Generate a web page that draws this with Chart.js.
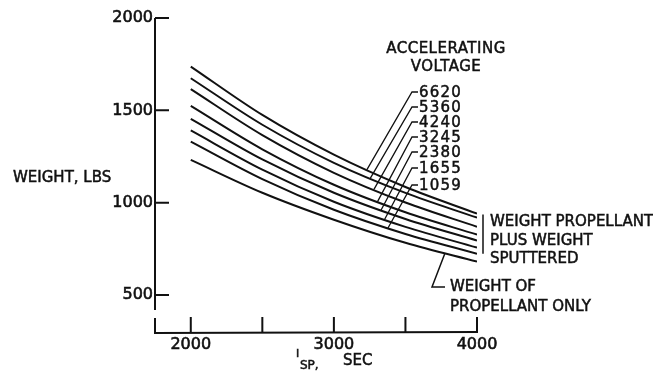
<!DOCTYPE html>
<html>
<head>
<meta charset="utf-8">
<script src="https://cdn.jsdelivr.net/npm/chart.js@4.4.0/dist/chart.umd.min.js"></script>
<style>
  html, body { margin: 0; padding: 0; background: #fff; }
</style>
</head>
<body>
<canvas id="chartIsp" width="653" height="371"></canvas>
<script>
// specific impulse, sec
const ispValues = [2000, 2500, 3000, 3500, 4000];
// accelerating voltage labels, top curve first
const voltages = ['6620', '5360', '4240', '3245', '2380', '1655', '1059'];
// weight propellant plus weight sputtered, lbs
const w6620 = [1737, 1475, 1260, 1085, 941];
const w5360 = [1674, 1422, 1216, 1053, 919];
const w4240 = [1615, 1366, 1162, 1001, 870];
const w3245 = [1524, 1289, 1097, 948, 827];
const w2380 = [1454, 1234, 1054, 912, 795];
const w1655 = [1391, 1179, 1005, 869, 757];
const w1059 = [1331, 1128, 962, 831, 724];
// weight of propellant only
const propellantOnly = [1232, 1054, 908, 783, 681];

const xTickLabels = [2000, 3000, 4000];
const xTickMarks = [2000, 2500, 3000, 3500, 4000];
const yTicks = [500, 1000, 1500, 2000];

const INK = '#111';
const FONT = '"DejaVu Sans", sans-serif';

const series = [w6620, w5360, w4240, w3245, w2380, w1655, w1059, propellantOnly];

function toPoints(arr) {
    return arr.map((v, i) => ({ x: ispValues[i], y: v }));
}

// y pixel of a drawn curve at a given Isp
function curveY(chart, idx, isp) {
    const pts = chart.getDatasetMeta(idx).data;
    const px = chart.scales.x.getPixelForValue(isp);
    for (let i = 0; i < pts.length - 1; i++) {
        if (px >= pts[i].x && px <= pts[i + 1].x) {
            const t = (px - pts[i].x) / (pts[i + 1].x - pts[i].x);
            return pts[i].y + t * (pts[i + 1].y - pts[i].y);
        }
    }
    return pts[pts.length - 1].y;
}

// filled text with a hairline stroke so it looks like stencil lettering
function letter(ctx, s, x, y) {
    ctx.fillText(s, x, y);
    ctx.strokeText(s, x, y);
}

const decorPlugin = {
    id: 'decorPlugin',
    afterDraw(chart) {
        const { ctx, chartArea } = chart;
        const xs = chart.scales.x, ys = chart.scales.y;
        const left = chartArea.left, bottom = chartArea.bottom;

        ctx.save();
        ctx.strokeStyle = INK;
        ctx.fillStyle = INK;
        ctx.lineWidth = 2;
        ctx.lineCap = 'butt';

        // broken y axis
        ctx.beginPath();
        ctx.moveTo(left, ys.getPixelForValue(2000));
        ctx.lineTo(left, bottom - 22);
        ctx.moveTo(left, bottom - 14);
        ctx.lineTo(left, bottom + 1);
        // x axis
        ctx.lineTo(xs.getPixelForValue(4000) + 1, bottom);
        ctx.stroke();

        // tick marks pointing inward
        ctx.beginPath();
        yTicks.forEach(v => {
            const y = ys.getPixelForValue(v);
            ctx.moveTo(left, y);
            ctx.lineTo(left + 14, y);
        });
        xTickMarks.forEach(v => {
            const x = xs.getPixelForValue(v);
            ctx.moveTo(x, bottom);
            ctx.lineTo(x, bottom - 15);
        });
        ctx.stroke();

        ctx.lineWidth = 0.5;
        ctx.textBaseline = 'alphabetic';

        // axis titles
        ctx.textAlign = 'left';
        ctx.font = '15px ' + FONT;
        letter(ctx, 'WEIGHT, LBS', 13, 182);

        ctx.font = '11px ' + FONT;
        letter(ctx, 'I', 296, 357);
        ctx.font = '12px ' + FONT;
        letter(ctx, 'SP,', 300, 369);
        ctx.font = '15px ' + FONT;
        letter(ctx, 'SEC', 343, 365);

        // legend heading
        ctx.textAlign = 'center';
        ctx.font = '15px ' + FONT;
        ctx.letterSpacing = '0.5px';
        letter(ctx, 'ACCELERATING', 446, 53);
        letter(ctx, 'VOLTAGE', 446, 71);

        // voltage labels with leader lines
        const labelY = [92, 107, 122, 137, 152, 168, 185];
        const leaderIsp = [3231, 3255, 3280, 3305, 3330, 3354, 3378];
        ctx.textAlign = 'left';
        ctx.textBaseline = 'middle';
        ctx.font = '15px ' + FONT;
        ctx.letterSpacing = '1.2px';
        voltages.forEach((lab, i) => {
            const ex = xs.getPixelForValue(leaderIsp[i]);
            const ey = curveY(chart, i, leaderIsp[i]);
            ctx.lineWidth = 1.3;
            ctx.beginPath();
            ctx.moveTo(ex, ey);
            ctx.lineTo(412, labelY[i]);
            ctx.lineTo(418, labelY[i]);
            ctx.stroke();
            ctx.lineWidth = 0.5;
            letter(ctx, lab, 419, labelY[i] + 1);
        });
        ctx.letterSpacing = '0px';

        // bracket for sputtered curves
        const bx = xs.getPixelForValue(4000) + 6;
        ctx.lineWidth = 1.5;
        ctx.beginPath();
        ctx.moveTo(bx, curveY(chart, 0, 4000) + 1);
        ctx.lineTo(bx, curveY(chart, 6, 4000));
        ctx.stroke();

        // propellant only leader
        const px = xs.getPixelForValue(3776);
        ctx.beginPath();
        ctx.moveTo(px, curveY(chart, 7, 3776));
        ctx.lineTo(432, 287);
        ctx.lineTo(445, 287);
        ctx.stroke();

        ctx.lineWidth = 0.5;
        ctx.textBaseline = 'alphabetic';
        ctx.font = '15px ' + FONT;
        letter(ctx, 'WEIGHT PROPELLANT', 490, 226);
        letter(ctx, 'PLUS WEIGHT', 490, 245);
        letter(ctx, 'SPUTTERED', 490, 263);
        letter(ctx, 'WEIGHT OF', 450, 291);
        letter(ctx, 'PROPELLANT ONLY', 450, 311);

        ctx.restore();
    }
};

const ctx = document.getElementById('chartIsp').getContext('2d');
new Chart(ctx, {
    type: 'line',
    data: {
        datasets: series.map((arr, i) => ({
            label: i < voltages.length ? voltages[i] : 'Propellant only',
            data: toPoints(arr),
            borderColor: INK,
            borderWidth: 2,
            pointRadius: 0,
            fill: false,
            cubicInterpolationMode: 'monotone'
        }))
    },
    options: {
        responsive: false,
        animation: false,
        devicePixelRatio: 1,
        layout: { padding: { left: 0, right: 176, top: 18, bottom: 0 } },
        plugins: {
            legend: { display: false },
            tooltip: { enabled: false }
        },
        scales: {
            x: {
                type: 'linear',
                min: 1750,
                max: 4000,
                grid: { display: false, drawTicks: false },
                border: { display: false },
                afterBuildTicks: s => { s.ticks = xTickLabels.map(v => ({ value: v })); },
                afterFit: s => { s.height = 39; },
                ticks: {
                    color: INK,
                    padding: 3,
                    maxRotation: 0,
                    textStrokeColor: INK,
                    textStrokeWidth: 0.6,
                    callback: v => String(v),
                    font: { family: 'DejaVu Sans', size: 16 }
                }
            },
            y: {
                type: 'linear',
                min: 300,
                max: 2000,
                grid: { display: false, drawTicks: false },
                border: { display: false },
                afterBuildTicks: s => { s.ticks = yTicks.map(v => ({ value: v })); },
                afterFit: s => { s.width = 155; },
                ticks: {
                    color: INK,
                    padding: 2,
                    textStrokeColor: INK,
                    textStrokeWidth: 0.6,
                    callback: v => String(v),
                    font: { family: 'DejaVu Sans', size: 16 }
                }
            }
        }
    },
    plugins: [decorPlugin]
});
</script>
</body>
</html>
